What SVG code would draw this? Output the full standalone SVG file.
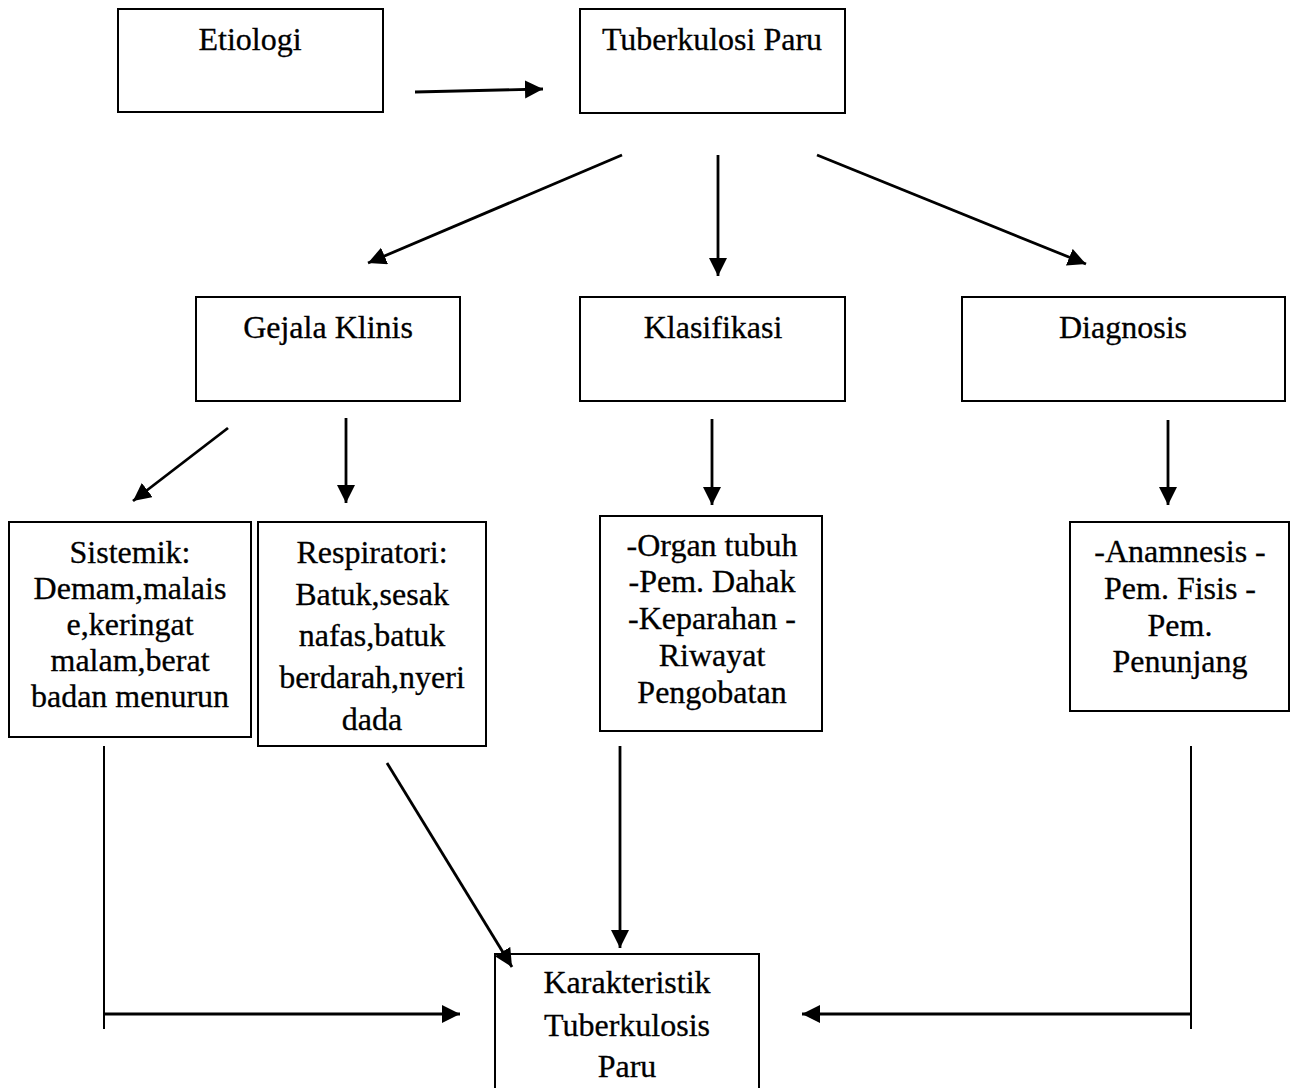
<svg xmlns="http://www.w3.org/2000/svg" width="1293" height="1088" viewBox="0 0 1293 1088">
<style>
.box{fill:#fff;stroke:#000;stroke-width:2}
.t{font-family:'Liberation Serif','Times New Roman',Tinos,'DejaVu Serif',serif;font-size:32px;fill:#000;stroke:#000;stroke-width:0.3;text-anchor:middle}
.c{fill:none;stroke:#000;stroke-width:2.8}
.b{fill:none;stroke:#000;stroke-width:2}
</style>
<defs>
<marker id="ah" markerUnits="userSpaceOnUse" markerWidth="22" markerHeight="20" refX="18" refY="9" orient="auto">
<path d="M0,0 L18,9 L0,18 z" fill="#000"/>
</marker>
</defs>
<rect width="1293" height="1088" fill="#fff"/>
<g id="etiologi"><rect class="box" x="118" y="9" width="265" height="103"/><text class="t" x="250" y="50">Etiologi</text></g>
<g id="tb-paru"><rect class="box" x="580" y="9" width="265" height="104"/><text class="t" x="712" y="50">Tuberkulosi Paru</text></g>
<g id="gejala"><rect class="box" x="196" y="297" width="264" height="104"/><text class="t" x="328" y="338">Gejala Klinis</text></g>
<g id="klasifikasi"><rect class="box" x="580" y="297" width="265" height="104"/><text class="t" x="713" y="338">Klasifikasi</text></g>
<g id="diagnosis"><rect class="box" x="962" y="297" width="323" height="104"/><text class="t" x="1123" y="338">Diagnosis</text></g>
<g id="sistemik"><rect class="box" x="9" y="522" width="242" height="215"/>
<text class="t"><tspan x="130" y="563">Sistemik:</tspan><tspan x="130" y="599">Demam,malais</tspan><tspan x="130" y="635">e,keringat</tspan><tspan x="130" y="671">malam,berat</tspan><tspan x="130" y="707">badan menurun</tspan></text></g>
<g id="respiratori"><rect class="box" x="258" y="522" width="228" height="224"/>
<text class="t"><tspan x="372" y="563">Respiratori:</tspan><tspan x="372" y="605">Batuk,sesak</tspan><tspan x="372" y="646">nafas,batuk</tspan><tspan x="372" y="688">berdarah,nyeri</tspan><tspan x="372" y="730">dada</tspan></text></g>
<g id="klasifikasi-detail"><rect class="box" x="600" y="516" width="222" height="215"/>
<text class="t"><tspan x="712" y="556">-Organ tubuh</tspan><tspan x="712" y="592">-Pem. Dahak</tspan><tspan x="712" y="629">-Keparahan -</tspan><tspan x="712" y="666">Riwayat</tspan><tspan x="712" y="703">Pengobatan</tspan></text></g>
<g id="diagnosis-detail"><rect class="box" x="1070" y="522" width="219" height="189"/>
<text class="t"><tspan x="1180" y="562">-Anamnesis -</tspan><tspan x="1180" y="599">Pem. Fisis -</tspan><tspan x="1180" y="636">Pem.</tspan><tspan x="1180" y="672">Penunjang</tspan></text></g>
<g id="karakteristik"><rect class="box" x="495" y="954" width="264" height="140"/>
<text class="t"><tspan x="627" y="993">Karakteristik</tspan><tspan x="627" y="1036">Tuberkulosis</tspan><tspan x="627" y="1077">Paru</tspan></text></g>
<g id="connectors">
<line class="c" x1="415" y1="92" x2="543" y2="89" marker-end="url(#ah)"/>
<line class="c" x1="622" y1="155" x2="368" y2="263" marker-end="url(#ah)"/>
<line class="c" x1="718" y1="155" x2="718" y2="276" marker-end="url(#ah)"/>
<line class="c" x1="817" y1="155" x2="1086" y2="264" marker-end="url(#ah)"/>
<line class="c" x1="228" y1="428" x2="133" y2="501" marker-end="url(#ah)"/>
<line class="c" x1="346" y1="418" x2="346" y2="503" marker-end="url(#ah)"/>
<line class="c" x1="712" y1="419" x2="712" y2="505" marker-end="url(#ah)"/>
<line class="c" x1="1168" y1="420" x2="1168" y2="505" marker-end="url(#ah)"/>
<line class="b" x1="104" y1="746" x2="104" y2="1029"/>
<line class="c" x1="104" y1="1014" x2="460" y2="1014" marker-end="url(#ah)"/>
<line class="c" x1="387" y1="763" x2="512" y2="967" marker-end="url(#ah)"/>
<line class="c" x1="620" y1="746" x2="620" y2="948" marker-end="url(#ah)"/>
<line class="b" x1="1191" y1="746" x2="1191" y2="1029"/>
<line class="c" x1="1191" y1="1014" x2="802" y2="1014" marker-end="url(#ah)"/>
</g>
</svg>
